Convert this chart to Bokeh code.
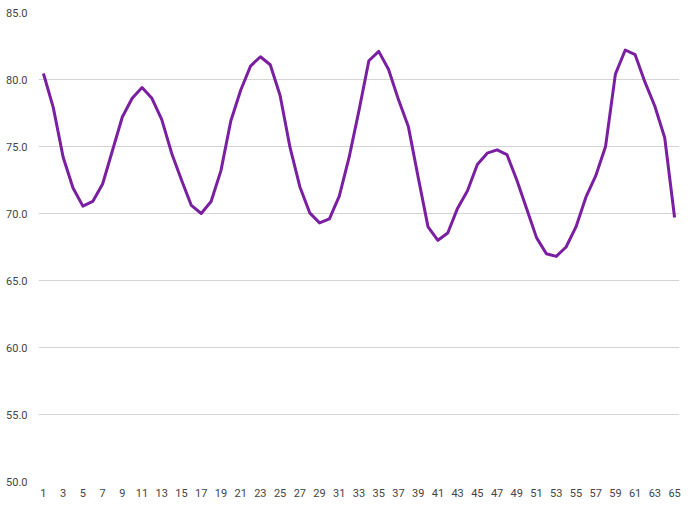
from bokeh.plotting import figure
from bokeh.models import FixedTicker, NumeralTickFormatter, Range1d
from bokeh.embed import file_html
from bokeh.resources import INLINE

x_values = list(range(1, 66))
y_values = [
    80.45, 77.9, 74.2, 71.9, 70.55, 70.9, 72.2, 74.7, 77.2, 78.6,
    79.4, 78.6, 77.0, 74.5, 72.5, 70.6, 70.0, 70.9, 73.2, 76.9,
    79.2, 81.0, 81.7, 81.1, 78.8, 74.95, 72.0, 70.05, 69.3, 69.6,
    71.3, 74.2, 77.7, 81.4, 82.1, 80.75, 78.5, 76.5, 72.7, 69.0,
    68.0, 68.55, 70.4, 71.7, 73.65, 74.5, 74.75, 74.4, 72.5, 70.35,
    68.2, 67.0, 66.8, 67.5, 69.0, 71.2, 72.8, 75.0, 80.4, 82.2,
    81.85, 79.8, 78.0, 75.65, 69.7,
]
x_tick_values = list(range(1, 66, 2))
y_tick_values = [50, 55, 60, 65, 70, 75, 80, 85]

p = figure(
    width=690, height=507,
    output_backend="svg", toolbar_location=None,
    x_range=Range1d(0.5, 65.5), y_range=Range1d(50, 85),
    min_border_left=38, min_border_right=11, min_border_top=12, min_border_bottom=26,
)
p.outline_line_color = None
p.background_fill_color = "white"

p.line(x_values, y_values, line_color="#7B1FA2", line_width=3, line_join="round")

for ax in (p.xaxis, p.yaxis):
    ax.axis_line_color = None
    ax.major_tick_line_color = None
    ax.minor_tick_line_color = None
    ax.major_tick_out = 0
    ax.major_tick_in = 0
    ax.major_label_text_font = "Roboto"
    ax.major_label_text_font_size = "11px"
    ax.major_label_text_color = "#444444"

p.xaxis.ticker = FixedTicker(ticks=x_tick_values)
p.xaxis.major_label_standoff = 7
p.yaxis.ticker = FixedTicker(ticks=y_tick_values)
p.yaxis.formatter = NumeralTickFormatter(format="0.0")
p.yaxis.major_label_standoff = 11

p.xgrid.grid_line_color = None
p.ygrid.grid_line_color = "#d4d4d4"
p.ygrid.grid_line_width = 1

open("out.html", "w").write(file_html(p, INLINE))
